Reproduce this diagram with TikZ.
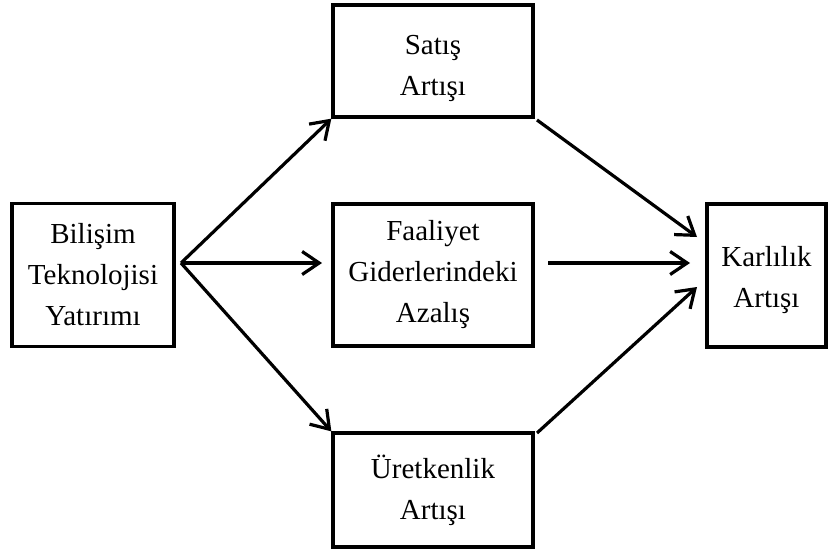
\documentclass[tikz,border=0pt]{standalone}
\usepackage{fontspec}
\setmainfont{Liberation Serif}
\usetikzlibrary{arrows.meta}
\begin{document}
\begin{tikzpicture}[x=1pt,y=-1pt,
  box/.style={draw,line width=3.3pt,align=center,inner sep=0pt,
    font=\fontsize{29}{41}\selectfont},
  arr/.style={line width=3.2pt,-{Straight Barb[length=17pt,width=23pt]}}]
\useasboundingbox (0,0) rectangle (831,554);
\node[box,minimum width=162pt,minimum height=143pt] (bil) at (93,275) {Bilişim\\Teknolojisi\\Yatırımı};
\node[box,minimum width=200pt,minimum height=112pt] (sat) at (433,61) {\rule{0pt}{34pt}Satış\\Artışı};
\node[box,minimum width=200pt,minimum height=142pt] (faa) at (433,275) {Faaliyet\\Giderlerindeki\\Azalış};
\node[box,minimum width=200pt,minimum height=114pt] (ure) at (433,490) {Üretkenlik\\Artışı};
\node[box,minimum width=119pt,minimum height=143pt] (kar) at (766.5,275.5) {\rule{0pt}{30pt}Karlılık\\Artışı};
\coordinate (s) at (181,263);
\coordinate (m1) at (322,263);
\coordinate (m2) at (548,263);
\coordinate (m3) at (690,263);
\coordinate (k1) at (697,237);
\coordinate (k2) at (697,287);
\coordinate (r1) at (537,120);
\coordinate (r2) at (537,433);
\draw[arr] (s) -- (sat.south west);
\draw[arr] (s) -- (m1);
\draw[arr] (s) -- (ure.north west);
\draw[arr] (r1) -- (k1);
\draw[arr] (m2) -- (m3);
\draw[arr] (r2) -- (k2);
\end{tikzpicture}
\end{document}
